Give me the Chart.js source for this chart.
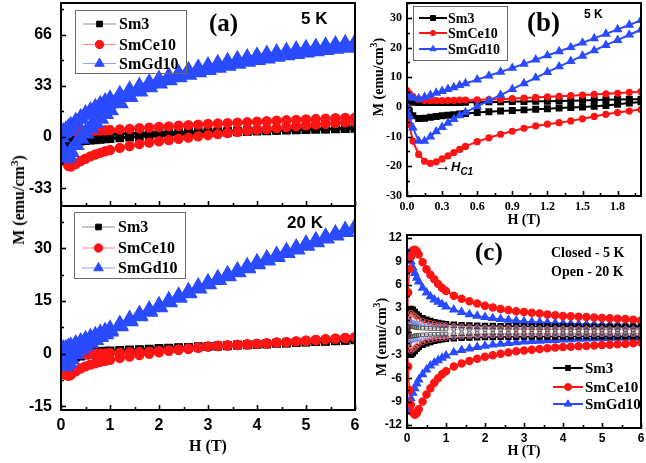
<!DOCTYPE html>
<html><head><meta charset="utf-8">
<script src="https://cdn.jsdelivr.net/npm/chart.js@4.4.1/dist/chart.umd.min.js"></script>
<style>
html,body{margin:0;padding:0;background:#fff;}
#wrap{position:relative;width:646px;height:463px;overflow:hidden;background:#fff;}
canvas{position:absolute;}
.t{position:absolute;white-space:nowrap;line-height:1;color:#000;font-weight:bold;z-index:5;}
.serif{font-family:"Liberation Serif","Times New Roman",serif;}
.sans{font-family:"Liberation Sans",Arial,sans-serif;}
.rot{transform:translate(-50%,-50%) rotate(-90deg);}
.ctr{transform:translate(-50%,-50%);}
sup{font-size:0.7em;vertical-align:super;line-height:0;}
</style></head>
<body><div id="wrap">
<canvas id="a1" width="362" height="210" style="left:0;top:0"></canvas>
<canvas id="a2" width="362" height="259" style="left:0;top:204px"></canvas>
<canvas id="b" width="284" height="235" style="left:362px;top:0"></canvas>
<canvas id="c" width="284" height="233" style="left:362px;top:230px"></canvas>

<div class="t serif" style="left:209px;top:10px;font-size:25px">(a)</div>
<div class="t sans" style="left:301px;top:10px;font-size:17px">5 K</div>
<div class="t sans" style="left:287px;top:214px;font-size:17px">20 K</div>
<div class="t serif" style="left:527px;top:9px;font-size:27px">(b)</div>
<div class="t sans" style="left:584px;top:8px;font-size:12px">5 K</div>
<div class="t serif" style="left:475px;top:239px;font-size:25px">(c)</div>
<div class="t serif" style="left:551px;top:246px;font-size:14px">Closed - 5 K</div>
<div class="t serif" style="left:551px;top:265px;font-size:14px">Open - 20 K</div>
<div class="t sans" style="left:435px;top:158px;font-size:16px">&#8594;<i style="font-size:13px">H</i><sub style="font-size:10px"><i>C1</i></sub></div>

<div class="t serif ctr" style="left:208px;top:446px;font-size:16px">H (T)</div>
<div class="t serif ctr" style="left:524px;top:220px;font-size:14px">H (T)</div>
<div class="t serif ctr" style="left:524px;top:451px;font-size:14px">H (T)</div>
<div class="t serif rot" style="left:19px;top:200px;font-size:16px">M (emu/cm<sup>3</sup>)</div>
<div class="t serif rot" style="left:379px;top:77px;font-size:14px">M (emu/cm<sup>3</sup>)</div>
<div class="t serif rot" style="left:382px;top:337px;font-size:14px">M (emu/cm<sup>3</sup>)</div>
</div>
<script>
// ---------------- DATA ----------------
const seriesNames = ['Sm3', 'SmCe10', 'SmGd10'];

// Panel (a): field grid (T)
const H_a = [0,0.05,0.1,0.15,0.2,0.3,0.4,0.5,0.6,0.7,0.8,0.9,1.0,1.2,1.4,1.6,1.8,2.0,2.2,2.4,2.6,2.8,3.0,3.2,3.4,3.6,3.8,4.0,4.2,4.4,4.6,4.8,5.0,5.2,5.4,5.6,5.8,6.0];
// 5 K, increasing-field branch / decreasing-field branch
const a5_Sm3_inc = [0,-3,-4,-3.8,-3.5,-3.1,-2.7,-2.4,-2.1,-1.8,-1.5,-1.2,-1.0,-0.5,-0.1,0.3,0.7,1.0,1.3,1.6,1.9,2.2,2.5,2.8,3.0,3.3,3.5,3.8,4.0,4.2,4.4,4.6,4.8,5.0,5.1,5.3,5.4,5.6];
const a5_Sm3_dec = [1.5,1.5,1.5,1.5,1.5,1.5,1.6,1.6,1.7,1.7,1.8,1.9,2.0,2.1,2.3,2.4,2.6,2.7,2.9,3.0,3.2,3.3,3.5,3.6,3.8,3.9,4.1,4.2,4.4,4.5,4.7,4.8,5.0,5.1,5.3,5.4,5.6,5.7];
const a5_Ce_inc = [0,-10,-16,-18.5,-19,-17.5,-15.5,-14,-12.5,-11.3,-10.2,-9.2,-8.4,-7,-5.8,-4.6,-3.6,-2.7,-1.9,-1.1,-0.4,0.5,1.2,1.9,2.6,3.3,4.0,4.6,5.2,5.8,6.4,7.0,7.6,8.1,8.6,9.1,9.5,9.9];
const a5_Ce_dec = [5.5,4.5,4,3.8,3.7,3.7,3.8,3.9,4,4.1,4.2,4.4,4.5,4.9,5.3,5.7,6.1,6.5,6.9,7.3,7.7,8.0,8.4,8.7,9.0,9.3,9.6,9.9,10.2,10.5,10.8,11.1,11.4,11.6,11.9,12.1,12.3,12.5];
const a5_Gd_inc = [0,-9,-13.5,-12,-9.5,-5,-1,2.5,6,9,12,15,17.5,22,26,29.5,32.3,34.7,36.8,38.7,40.4,42,43.5,44.9,46.2,47.5,48.7,49.8,50.9,51.9,52.9,53.8,54.7,55.5,56.3,57.1,57.8,58.5];
const a5_Gd_dec = [2.5,3,4,5.5,7,9.5,12,14.5,16.5,18.5,20.5,22.3,24,27,29.8,32.3,34.6,36.8,38.8,40.7,42.4,44,45.5,46.9,48.2,49.5,50.7,51.8,52.9,53.9,54.9,55.8,56.7,57.5,58.3,59.1,59.8,60.5];
// 20 K
const a20_Sm3_inc = [0,-1.5,-2,-1.8,-1.5,-1,-0.7,-0.4,-0.2,0,0.2,0.35,0.5,0.75,0.9,1.05,1.2,1.35,1.5,1.6,1.75,1.85,2.0,2.15,2.25,2.4,2.5,2.65,2.75,2.9,3.0,3.15,3.25,3.4,3.5,3.65,3.75,3.9];
const a20_Sm3_dec = [0.5,0,-0.2,-0.1,0,0.2,0.3,0.4,0.5,0.6,0.7,0.75,0.8,0.95,1.1,1.2,1.35,1.5,1.6,1.75,1.85,2.0,2.1,2.25,2.35,2.5,2.6,2.75,2.85,3.0,3.1,3.25,3.35,3.5,3.6,3.75,3.85,4.0];
const a20_Ce_inc = [0,-4,-6,-6.3,-6,-5,-4.2,-3.6,-3.1,-2.7,-2.3,-2,-1.7,-1.2,-0.8,-0.4,0,0.4,0.8,1.1,1.4,1.7,2.0,2.2,2.3,2.5,2.6,2.8,2.9,3.1,3.3,3.5,3.7,3.9,4.1,4.3,4.5,4.7];
const a20_Ce_dec = [1.5,0.8,0.3,0.1,0,-0.1,-0.1,-0.1,0,0,0.1,0.1,0.2,0.3,0.4,0.5,0.6,0.8,1.0,1.2,1.5,1.8,2.1,2.3,2.4,2.5,2.7,2.8,3.0,3.2,3.3,3.5,3.7,3.9,4.1,4.3,4.5,4.7];
const a20_Gd_inc = [0,-2.5,-3.5,-2.5,-1.5,0,1.2,2.2,3.1,4,4.8,5.6,6.4,7.9,9.3,10.7,12,13.3,14.7,16,17.3,18.6,19.8,21,22.1,23.2,24.4,25.5,26.6,27.6,28.7,29.7,30.8,31.8,32.8,33.7,34.7,35.6];
const a20_Gd_dec = [1.5,1.2,1.3,1.6,2,2.6,3.2,3.8,4.4,5,5.6,6.2,6.8,8.2,9.6,11,12.3,13.5,14.9,16.2,17.5,18.8,20,21.2,22.3,23.4,24.6,25.7,26.8,27.8,28.9,29.9,31,32,33,33.9,34.9,35.8];

// Panel (b): 5 K, low field
const H_b = [0,0.02,0.05,0.1,0.15,0.2,0.25,0.3,0.35,0.4,0.45,0.5,0.6,0.7,0.8,0.9,1.0,1.1,1.2,1.3,1.4,1.5,1.6,1.7,1.8,1.9,2.0];
const b_Sm3_inc = [0,-1.5,-3,-3.9,-3.8,-3.5,-3.2,-3,-2.8,-2.6,-2.4,-2.2,-1.9,-1.6,-1.4,-1.2,-1,-0.8,-0.6,-0.4,-0.2,0,0.2,0.5,0.9,1.3,1.7];
const b_Sm3_dec = [2,1.8,1.6,1.5,1.5,1.5,1.5,1.5,1.5,1.5,1.5,1.6,1.6,1.7,1.7,1.8,1.8,1.9,1.9,2.0,2.1,2.2,2.3,2.4,2.5,2.6,2.6];
const b_Ce_inc = [0,-6,-11.5,-16,-18.3,-19,-18.5,-17.5,-16.5,-15.4,-14.3,-13.3,-11.7,-10.4,-9.2,-8.2,-7.2,-6.4,-5.8,-5.3,-4.7,-4,-3.2,-2.5,-1.9,-1.4,-0.9];
const b_Ce_dec = [5.5,4.5,3.5,2.6,2.2,2.1,2.1,2.1,2.2,2.2,2.3,2.3,2.4,2.5,2.6,2.8,3,3.2,3.4,3.6,3.8,4,4.2,4.4,4.6,4.9,5.2];
const b_Gd_inc = [0,-3,-7,-11.5,-11.5,-10,-8.3,-6.8,-5.4,-4.1,-2.9,-1.8,0.2,2.1,4,6,7.9,9.8,11.7,13.6,15.4,17.2,19,20.8,22.5,24.3,26];
const b_Gd_dec = [4,3.5,3,2.8,3.3,4,4.7,5.3,6,6.6,7.3,7.9,9.2,10.5,11.8,13.1,14.5,15.9,17.3,18.7,20.1,21.6,23.1,24.6,26.1,27.6,29.2];

// Panel (c): loop width, closed = 5 K, open = 20 K
const H_c = [0,0.03,0.06,0.1,0.15,0.2,0.25,0.3,0.4,0.5,0.6,0.7,0.8,0.9,1.0,1.2,1.4,1.6,1.8,2.0,2.2,2.4,2.6,2.8,3.0,3.2,3.4,3.6,3.8,4.0,4.2,4.4,4.6,4.8,5.0,5.2,5.4,5.6,5.8,6.0];
const c5_Sm3_pos = [0.3,1.5,2.6,2.9,2.8,2.5,2.2,2.0,1.7,1.5,1.35,1.2,1.1,1.0,0.95,0.88,0.82,0.78,0.75,0.72,0.7,0.69,0.68,0.67,0.66,0.65,0.65,0.64,0.64,0.63,0.63,0.62,0.62,0.61,0.61,0.6,0.6,0.6,0.6,0.6];
const c5_Sm3_neg = [-0.3,-1.6,-2.7,-3.0,-2.8,-2.5,-2.2,-2.0,-1.7,-1.5,-1.35,-1.2,-1.1,-1.0,-0.95,-0.88,-0.82,-0.78,-0.75,-0.72,-0.7,-0.69,-0.68,-0.67,-0.66,-0.65,-0.65,-0.64,-0.64,-0.63,-0.63,-0.62,-0.62,-0.61,-0.61,-0.6,-0.6,-0.6,-0.6,-0.6];
const c5_Ce_pos = [0.5,5,8,9.6,10.4,10.5,10.3,9.9,8.9,8,7.3,6.7,6.1,5.6,5.2,4.6,4.2,3.9,3.6,3.3,3.1,2.9,2.75,2.6,2.5,2.4,2.3,2.2,2.1,2.0,1.95,1.9,1.85,1.8,1.75,1.7,1.65,1.6,1.5,1.4];
const c5_Ce_neg = [-0.5,-4.5,-7.5,-9.4,-10.4,-10.7,-10.5,-10,-9,-8.1,-7.3,-6.6,-6,-5.5,-5.1,-4.5,-4.1,-3.8,-3.5,-3.25,-3.05,-2.85,-2.7,-2.55,-2.45,-2.35,-2.25,-2.15,-2.05,-2.0,-1.95,-1.9,-1.85,-1.8,-1.75,-1.7,-1.65,-1.6,-1.5,-1.4];
const c5_Gd_pos = [10,10,9.6,9,8.2,7.5,6.9,6.4,5.6,5,4.5,4.1,3.8,3.5,3.2,2.8,2.5,2.2,2.0,1.85,1.7,1.6,1.5,1.4,1.3,1.25,1.2,1.15,1.1,1.05,1.0,0.95,0.92,0.9,0.87,0.85,0.82,0.8,0.78,0.75];
const c5_Gd_neg = [-10.2,-9.8,-9.2,-8.6,-7.9,-7.3,-6.7,-6.2,-5.5,-4.9,-4.4,-4,-3.7,-3.4,-3.1,-2.7,-2.4,-2.2,-2.0,-1.85,-1.7,-1.6,-1.5,-1.4,-1.3,-1.25,-1.2,-1.15,-1.1,-1.05,-1.0,-0.95,-0.92,-0.9,-0.87,-0.85,-0.82,-0.8,-0.78,-0.75];
const c20_Sm3_pos = [0.2,0.6,0.7,0.65,0.6,0.55,0.5,0.47,0.43,0.4,0.38,0.36,0.34,0.33,0.32,0.3,0.29,0.28,0.27,0.26,0.25,0.25,0.24,0.24,0.23,0.23,0.22,0.22,0.22,0.21,0.21,0.21,0.2,0.2,0.2,0.2,0.2,0.19,0.19,0.19];
const c20_Sm3_neg = [-0.2,-0.6,-0.7,-0.65,-0.6,-0.55,-0.5,-0.47,-0.43,-0.4,-0.38,-0.36,-0.34,-0.33,-0.32,-0.3,-0.29,-0.28,-0.27,-0.26,-0.25,-0.25,-0.24,-0.24,-0.23,-0.23,-0.22,-0.22,-0.22,-0.21,-0.21,-0.21,-0.2,-0.2,-0.2,-0.2,-0.2,-0.19,-0.19,-0.19];
const c20_Ce_pos = [0.3,1.5,2.2,2.4,2.2,2.0,1.8,1.6,1.4,1.2,1.1,1.0,0.9,0.85,0.8,0.72,0.66,0.6,0.56,0.52,0.5,0.48,0.46,0.44,0.42,0.4,0.39,0.38,0.37,0.36,0.35,0.34,0.33,0.32,0.31,0.3,0.3,0.29,0.28,0.28];
const c20_Ce_neg = [-0.3,-1.6,-2.3,-2.5,-2.3,-2.1,-1.85,-1.65,-1.4,-1.2,-1.1,-1.0,-0.9,-0.85,-0.8,-0.72,-0.66,-0.6,-0.56,-0.52,-0.5,-0.48,-0.46,-0.44,-0.42,-0.4,-0.39,-0.38,-0.37,-0.36,-0.35,-0.34,-0.33,-0.32,-0.31,-0.3,-0.3,-0.29,-0.28,-0.28];
const c20_Gd_pos = [1.6,1.5,1.4,1.3,1.2,1.1,1.05,1.0,0.92,0.86,0.82,0.78,0.75,0.72,0.7,0.67,0.64,0.62,0.6,0.58,0.57,0.56,0.55,0.54,0.53,0.52,0.51,0.5,0.5,0.49,0.49,0.48,0.48,0.47,0.47,0.46,0.46,0.45,0.45,0.45];
const c20_Gd_neg = [-1.6,-1.5,-1.4,-1.3,-1.2,-1.1,-1.05,-1.0,-0.92,-0.86,-0.82,-0.78,-0.75,-0.72,-0.7,-0.67,-0.64,-0.62,-0.6,-0.58,-0.57,-0.56,-0.55,-0.54,-0.53,-0.52,-0.51,-0.5,-0.5,-0.49,-0.49,-0.48,-0.48,-0.47,-0.47,-0.46,-0.46,-0.45,-0.45,-0.45];

// Tick labels
const xTicksA = [0,1,2,3,4,5,6];
const yTicksA1 = [-33,0,33,66];
const yTicksA2 = [-15,0,15,30];
const xTicksB = [0,0.3,0.6,0.9,1.2,1.5,1.8];
const yTicksB = [-30,-20,-10,0,10,20,30];
const xTicksC = [0,1,2,3,4,5,6];
const yTicksC = [-12,-9,-6,-3,0,3,6,9,12];

// ---------------- STYLE / HELPERS ----------------
const RED = '#ff1414', BLUE = '#2a4bff', BLACK = '#000000';
const SERIF = '"Liberation Serif","Times New Roman",serif';
const SANS = '"Liberation Sans",Arial,sans-serif';

function loop(H, inc, dec) {
  const pts = H.map((h, i) => ({x: h, y: inc[i]}));
  for (let i = H.length - 1; i >= 0; i--) pts.push({x: H[i], y: dec[i]});
  return pts;
}
function branch(H, v) { return H.map((h, i) => ({x: h, y: v[i]})); }
function minorOf(major) {
  const step = major[1] - major[0];
  const out = [];
  for (let i = -1; i < major.length; i++) out.push(+(major[0] + (i + 0.5) * step).toFixed(4));
  return out;
}

function drawMarker(ctx, style, x, y, r, fill, stroke, lw) {
  ctx.save();
  ctx.beginPath();
  if (style === 'rect') {
    const s = r * Math.SQRT1_2;
    ctx.rect(x - s, y - s, 2 * s, 2 * s);
  } else if (style === 'triangle') {
    let a = 0;
    ctx.moveTo(x + Math.sin(a) * r, y - Math.cos(a) * r);
    a += 2 * Math.PI / 3;
    ctx.lineTo(x + Math.sin(a) * r, y - Math.cos(a) * r);
    a += 2 * Math.PI / 3;
    ctx.lineTo(x + Math.sin(a) * r, y - Math.cos(a) * r);
    ctx.closePath();
  } else {
    ctx.arc(x, y, r, 0, Math.PI * 2);
  }
  ctx.fillStyle = fill; ctx.fill();
  ctx.strokeStyle = stroke; ctx.lineWidth = lw || 1; ctx.stroke();
  ctx.restore();
}

const framePlugin = {
  id: 'frame',
  afterDatasetsDraw(chart, args, o) {
    const {ctx, chartArea: a} = chart;
    const sx = chart.scales.x, sy = chart.scales.y;
    ctx.save();
    ctx.strokeStyle = '#000';
    ctx.lineWidth = 1.6;
    const tick = (vals, len, isX) => vals.forEach(v => {
      if (isX) {
        if (v < sx.min - 1e-9 || v > sx.max + 1e-9) return;
        const x = Math.round(sx.getPixelForValue(v)) + 0.5;
        ctx.beginPath(); ctx.moveTo(x, a.bottom); ctx.lineTo(x, a.bottom - len); ctx.stroke();
      } else {
        if (v < sy.min - 1e-9 || v > sy.max + 1e-9) return;
        const y = Math.round(sy.getPixelForValue(v)) + 0.5;
        ctx.beginPath(); ctx.moveTo(a.left, y); ctx.lineTo(a.left + len, y); ctx.stroke();
      }
    });
    tick(o.xMajor, 5, true); tick(minorOf(o.xMajor), 3, true);
    tick(o.yMajor, 5, false); tick(minorOf(o.yMajor), 3, false);
    ctx.lineWidth = 2;
    ctx.strokeRect(a.left, a.top, a.right - a.left, a.bottom - a.top);
    ctx.restore();
  }
};

const legendPlugin = {
  id: 'boxLegend',
  afterDraw(chart, args, o) {
    if (!o || !o.items) return;
    const ctx = chart.ctx;
    ctx.save();
    ctx.translate(-o.ox, -o.oy);
    if (o.box) {
      ctx.strokeStyle = '#6a6a6a'; ctx.lineWidth = 1;
      ctx.strokeRect(o.box[0] + 0.5, o.box[1] + 0.5, o.box[2], o.box[3]);
    }
    o.items.forEach(it => {
      const ds = chart.data.datasets[it.ds];
      ctx.strokeStyle = ds.legendLine || ds.borderColor; ctx.lineWidth = o.lw;
      ctx.beginPath(); ctx.moveTo(o.x0, it.y); ctx.lineTo(o.x1, it.y); ctx.stroke();
      drawMarker(ctx, ds.pointStyle, (o.x0 + o.x1) / 2, it.y, ds.pointRadius, ds.pointBackgroundColor, ds.pointBorderColor, 1);
      ctx.fillStyle = '#000'; ctx.font = o.font; ctx.textBaseline = 'middle'; ctx.textAlign = 'left';
      ctx.fillText(ds.label, o.tx, it.y + 1);
    });
    ctx.restore();
  }
};

function mkOptions(p) {
  return {
    responsive: false, animation: false, devicePixelRatio: 1, events: [],
    layout: {padding: p.pad, autoPadding: false},
    scales: {
      x: {
        type: 'linear', min: p.xmin, max: p.xmax, display: p.xShow,
        afterBuildTicks: s => { s.ticks = p.xMajor.map(v => ({value: v})); },
        afterFit: s => { s.height = p.xH; s.paddingLeft = 0; s.paddingRight = 0; },
        grid: {display: false, drawTicks: false}, border: {display: false},
        ticks: {color: '#000', font: p.tickFont, padding: p.xPad, maxRotation: 0, autoSkip: false,
                callback: p.xFmt || (v => String(v))}
      },
      y: {
        type: 'linear', min: p.ymin, max: p.ymax,
        afterBuildTicks: s => { s.ticks = p.yMajor.map(v => ({value: v})); },
        afterFit: s => { s.width = p.yW; s.paddingTop = 0; s.paddingBottom = 0; },
        grid: {display: false, drawTicks: false}, border: {display: false},
        ticks: {color: '#000', font: p.tickFont, padding: p.yPad, autoSkip: false, callback: v => String(v)}
      }
    },
    plugins: {
      legend: {display: false}, tooltip: {enabled: false},
      frame: {xMajor: p.xMajor, yMajor: p.yMajor},
      boxLegend: p.legend
    }
  };
}

function aSets(sm3, ce, gd) {
  return [
    {label: seriesNames[0], data: sm3, showLine: true, pointStyle: 'rect', pointRadius: 4,
     pointBackgroundColor: BLACK, pointBorderColor: BLACK, borderColor: BLACK, borderWidth: 3,
     legendLine: '#8a8a8a', order: 3},
    {label: seriesNames[1], data: ce, showLine: true, pointStyle: 'circle', pointRadius: 4.2,
     pointBackgroundColor: RED, pointBorderColor: RED, borderColor: RED, borderWidth: 2,
     legendLine: '#ff8a8a', order: 2},
    {label: seriesNames[2], data: gd, showLine: true, pointStyle: 'triangle', pointRadius: 5.5,
     pointBackgroundColor: BLUE, pointBorderColor: BLUE, borderColor: BLUE, borderWidth: 5,
     legendLine: '#8fa0ff', order: 1}
  ];
}

const tickA = {family: SANS, size: 16, weight: 'bold'};

// (a) top: 5 K
new Chart(document.getElementById('a1'), {
  type: 'scatter',
  data: {datasets: aSets(loop(H_a, a5_Sm3_inc, a5_Sm3_dec), loop(H_a, a5_Ce_inc, a5_Ce_dec), loop(H_a, a5_Gd_inc, a5_Gd_dec))},
  options: mkOptions({pad: {top: 3, right: 7, bottom: 4, left: 0}, xmin: 0, xmax: 6, xShow: false, xMajor: xTicksA, xH: 0, xPad: 0,
    ymin: -44.5, ymax: 86.5, yMajor: yTicksA1, yW: 61, yPad: 9, tickFont: tickA,
    legend: {ox: 0, oy: 0, box: [75, 10, 111, 63], x0: 83, x1: 116, tx: 119, lw: 1, font: 'bold 16px ' + SERIF,
             items: [{ds: 0, y: 24}, {ds: 1, y: 44.5}, {ds: 2, y: 63.5}]}}),
  plugins: [framePlugin, legendPlugin]
});

// (a) bottom: 20 K
new Chart(document.getElementById('a2'), {
  type: 'scatter',
  data: {datasets: aSets(loop(H_a, a20_Sm3_inc, a20_Sm3_dec), loop(H_a, a20_Ce_inc, a20_Ce_dec), loop(H_a, a20_Gd_inc, a20_Gd_dec))},
  options: mkOptions({pad: {top: 2, right: 7, bottom: 0, left: 0}, xmin: 0, xmax: 6, xShow: true, xMajor: xTicksA, xH: 53, xPad: 6,
    ymin: -16, ymax: 42, yMajor: yTicksA2, yW: 61, yPad: 9, tickFont: tickA,
    legend: {ox: 0, oy: 204, box: [74, 212, 111, 66], x0: 82, x1: 115, tx: 118, lw: 1, font: 'bold 16px ' + SERIF,
             items: [{ds: 0, y: 227}, {ds: 1, y: 248}, {ds: 2, y: 268}]}}),
  plugins: [framePlugin, legendPlugin]
});

// (b)
new Chart(document.getElementById('b'), {
  type: 'scatter',
  data: {datasets: [
    {label: seriesNames[0], data: loop(H_b, b_Sm3_inc, b_Sm3_dec), showLine: true, pointStyle: 'rect', pointRadius: 3.5,
     pointBackgroundColor: BLACK, pointBorderColor: BLACK, borderColor: BLACK, borderWidth: 2, order: 3},
    {label: seriesNames[1], data: loop(H_b, b_Ce_inc, b_Ce_dec), showLine: true, pointStyle: 'circle', pointRadius: 2.6,
     pointBackgroundColor: RED, pointBorderColor: RED, borderColor: RED, borderWidth: 2, order: 2},
    {label: seriesNames[2], data: loop(H_b, b_Gd_inc, b_Gd_dec), showLine: true, pointStyle: 'triangle', pointRadius: 3.6,
     pointBackgroundColor: BLUE, pointBorderColor: BLUE, borderColor: BLUE, borderWidth: 2, order: 1}
  ]},
  options: mkOptions({pad: {top: 3, right: 5, bottom: 0, left: 0}, xmin: 0, xmax: 2.0, xShow: true, xMajor: xTicksB, xH: 39, xPad: 4,
    xFmt: v => v.toFixed(1),
    ymin: -30, ymax: 35, yMajor: yTicksB, yW: 45, yPad: 5, tickFont: {family: SERIF, size: 12, weight: 'bold'},
    legend: {ox: 362, oy: 0, box: [413, 6, 94, 54], x0: 419, x1: 447, tx: 448, lw: 2, font: 'bold 14px ' + SERIF,
             items: [{ds: 0, y: 18}, {ds: 1, y: 33}, {ds: 2, y: 49}]}}),
  plugins: [framePlugin, legendPlugin]
});

// (c)
function closedSet(label, data, style, r, col) {
  return {label, data, showLine: true, pointStyle: style, pointRadius: r, pointBackgroundColor: col,
          pointBorderColor: col, borderColor: col, borderWidth: 1.5, order: 2};
}
function openSet(label, data, style, col, lineCol) {
  return {label, data, showLine: true, pointStyle: style, pointRadius: 2.5, pointBackgroundColor: 'rgba(255,255,255,0)',
          pointBorderColor: col, pointBorderWidth: 0.8, borderColor: lineCol, borderWidth: 0.6, order: 1};
}
new Chart(document.getElementById('c'), {
  type: 'scatter',
  data: {datasets: [
    closedSet(seriesNames[0], branch(H_c, c5_Sm3_pos), 'rect', 3.5, BLACK),
    closedSet(seriesNames[1], branch(H_c, c5_Ce_pos), 'circle', 3.5, RED),
    closedSet(seriesNames[2], branch(H_c, c5_Gd_pos), 'triangle', 4.2, BLUE),
    closedSet(seriesNames[0], branch(H_c, c5_Sm3_neg), 'rect', 3.5, BLACK),
    closedSet(seriesNames[1], branch(H_c, c5_Ce_neg), 'circle', 3.5, RED),
    closedSet(seriesNames[2], branch(H_c, c5_Gd_neg), 'triangle', 4.2, BLUE),
    openSet(seriesNames[0], branch(H_c, c20_Sm3_pos), 'rect', '#444', '#888'),
    openSet(seriesNames[1], branch(H_c, c20_Ce_pos), 'circle', '#ff6060', '#ffaaaa'),
    openSet(seriesNames[2], branch(H_c, c20_Gd_pos), 'triangle', '#5c78ff', '#a8b8ff'),
    openSet(seriesNames[0], branch(H_c, c20_Sm3_neg), 'rect', '#444', '#888'),
    openSet(seriesNames[1], branch(H_c, c20_Ce_neg), 'circle', '#ff6060', '#ffaaaa'),
    openSet(seriesNames[2], branch(H_c, c20_Gd_neg), 'triangle', '#5c78ff', '#a8b8ff')
  ]},
  options: mkOptions({pad: {top: 5, right: 5, bottom: 0, left: 0}, xmin: 0, xmax: 6, xShow: true, xMajor: xTicksC, xH: 35, xPad: 3,
    ymin: -12.4, ymax: 12.4, yMajor: yTicksC, yW: 45, yPad: 5, tickFont: {family: SANS, size: 12, weight: 'bold'},
    legend: {ox: 362, oy: 230, box: null, x0: 553, x1: 583, tx: 585, lw: 2, font: 'bold 15px ' + SERIF,
             items: [{ds: 0, y: 368}, {ds: 1, y: 387}, {ds: 2, y: 404}]}}),
  plugins: [framePlugin, legendPlugin]
});
</script>
</body></html>
